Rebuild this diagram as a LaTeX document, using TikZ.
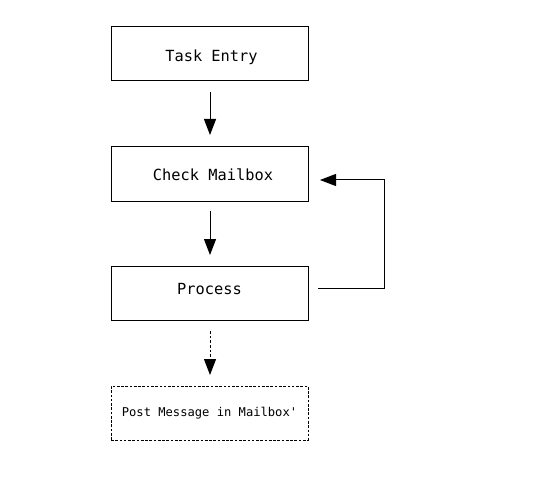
\documentclass[tikz,border=0pt]{standalone}
\usepackage{fontspec}
\setmonofont{DejaVu Sans Mono}
\usetikzlibrary{arrows.meta}
\begin{document}
\begin{tikzpicture}[x=0.75pt,y=-0.75pt,
  box/.style={draw, line width=0.75pt, minimum width=147.75pt, minimum height=40.5pt, inner sep=0pt},
  dbox/.style={box, dashed, dash pattern=on 2pt off 1.2pt},
  txt/.style={inner sep=0pt, font=\ttfamily\fontsize{11.5}{13}\selectfont},
  stxt/.style={inner sep=0pt, font=\ttfamily\fontsize{9.1}{11}\selectfont},
  arr/.style={line width=0.75pt, -{Triangle[length=12pt,width=9pt]}}]
\useasboundingbox (0,0) rectangle (554,478);
\node[box] (task) at (209.5,54) {};
\node[box] (check) at (209.5,174) {};
\node[box] (proc) at (209.5,293) {};
\node[dbox] (post) at (209.5,413) {};
\node[txt] (tasktxt) at (211.5,57) {Task Entry};
\node[txt] (checktxt) at (213,175) {Check Mailbox};
\node[txt] (proctxt) at (209.5,289.5) {Process};
\node[stxt] (posttxt) at (209.5,413) {Post Message in Mailbox'};
\coordinate (a1s) at (210,92); \coordinate (a1e) at (210,135);
\coordinate (a2s) at (210,211); \coordinate (a2e) at (210,255);
\coordinate (a3s) at (210,331); \coordinate (a3e) at (210,375);
\coordinate (fs) at (318,288); \coordinate (fe) at (320,180);
\draw[arr] (a1s) -- (a1e);
\draw[arr] (a2s) -- (a2e);
\draw[arr, dash pattern=on 2pt off 1.5pt] (a3s) -- (a3e);
\draw[arr] (fs) -- (384,288) -- (384,180) -- (fe);
\end{tikzpicture}
\end{document}
